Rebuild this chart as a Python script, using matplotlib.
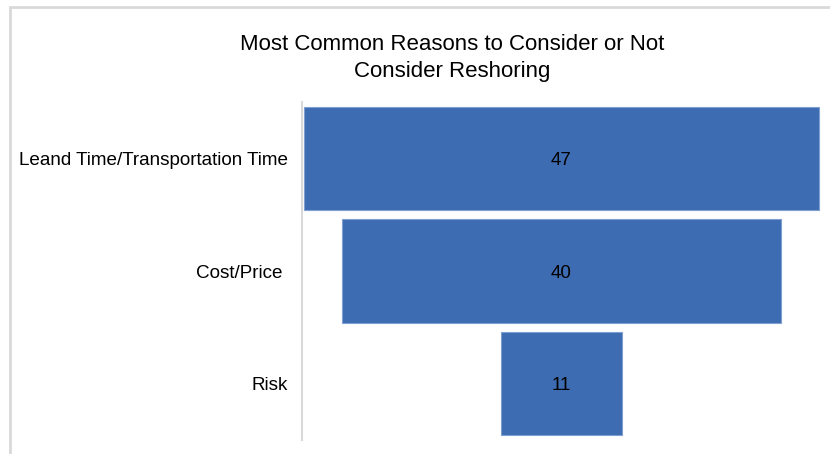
import matplotlib.pyplot as plt
from matplotlib.patches import Rectangle

# funnel data
categories = ["Leand Time/Transportation Time", "Cost/Price ", "Risk"]
counts = [47, 40, 11]

plt.rcParams['font.family'] = ['Liberation Sans', 'DejaVu Sans']

fig = plt.figure(figsize=(8.3, 4.54), dpi=100)
W, H = 830, 454

# chart area frame (runs off right/bottom like the original)
fig.patches.append(Rectangle((10 / W, -0.1), 1.2, 1 - 7 / H + 0.1,
                             transform=fig.transFigure, fill=False,
                             edgecolor='#D9D9D9', linewidth=2))

ax = fig.add_axes([302 / W, 1 - 440 / H, (821 - 302) / W, (440 - 102) / H])

y = range(len(categories))
lefts = [-c / 2 for c in counts]
ax.barh(y, counts, left=lefts, height=0.92, color='#3E6CB2',
        edgecolor='#7F9FD3', linewidth=0.8)

for i, c in enumerate(counts):
    ax.text(0, i, str(c), ha='center', va='center_baseline', fontsize=13.5, color='black')

half = 23.68
ax.set_xlim(-half, half)
ax.set_ylim(2.5, -0.5)
ax.set_yticks(list(y))
ax.set_yticklabels(categories, fontsize=13.6, color='black')
ax.set_xticks([])
ax.tick_params(axis='y', length=0, pad=10)
for s in ['top', 'right', 'bottom']:
    ax.spines[s].set_visible(False)
ax.spines['left'].set_color('#D9D9D9')
ax.spines['left'].set_linewidth(1.5)

fig.text(452 / W, 1 - 45 / H, "Most Common Reasons to Consider or Not",
         ha='center', va='center', fontsize=16, color='black')
fig.text(452 / W, 1 - 72 / H, "Consider Reshoring",
         ha='center', va='center', fontsize=16, color='black')

fig.savefig("out.png", dpi=100)
